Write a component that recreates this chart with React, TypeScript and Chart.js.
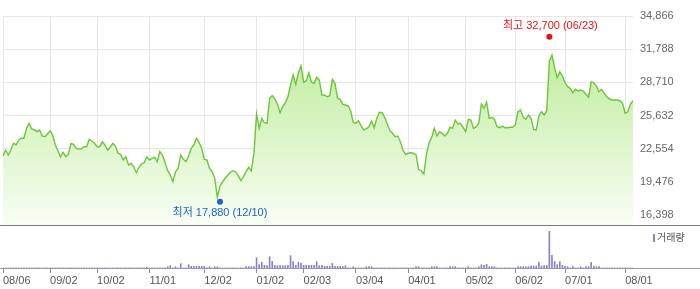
import React, { useEffect, useRef } from 'react';
import { Chart, registerables } from 'chart.js';

Chart.register(...registerables);

// Trading days (2024-08-06 .. 2025-08-06)
const dates = [
  '08/06','08/07','08/08','08/09','08/12','08/13','08/14','08/16','08/19','08/20','08/21','08/22','08/23','08/26','08/27','08/28','08/29','08/30',
  '09/02','09/03','09/04','09/05','09/06','09/09','09/10','09/11','09/12','09/13','09/19','09/20','09/23','09/24','09/25','09/26','09/27','09/30',
  '10/02','10/04','10/07','10/08','10/10','10/11','10/14','10/15','10/16','10/17','10/18','10/21','10/22','10/23','10/24','10/25','10/28','10/29','10/30','10/31',
  '11/01','11/04','11/05','11/06','11/07','11/08','11/11','11/12','11/13','11/14','11/15','11/18','11/19','11/20','11/21','11/22','11/25','11/26','11/27','11/28','11/29',
  '12/02','12/03','12/04','12/05','12/06','12/09','12/10','12/11','12/12','12/13','12/16','12/17','12/18','12/19','12/20','12/23','12/24','12/26','12/27','12/30',
  '01/02','01/03','01/06','01/07','01/08','01/09','01/10','01/13','01/14','01/15','01/16','01/17','01/20','01/21','01/22','01/23','01/24','01/31',
  '02/03','02/04','02/05','02/06','02/07','02/10','02/11','02/12','02/13','02/14','02/17','02/18','02/19','02/20','02/21','02/24','02/25','02/26','02/27','02/28',
  '03/04','03/05','03/06','03/07','03/10','03/11','03/12','03/13','03/14','03/17','03/18','03/19','03/20','03/21','03/24','03/25','03/26','03/27','03/28','03/31',
  '04/01','04/02','04/03','04/04','04/07','04/08','04/09','04/10','04/11','04/14','04/15','04/16','04/17','04/18','04/21','04/22','04/23','04/24','04/25','04/28','04/29','04/30',
  '05/02','05/07','05/08','05/09','05/12','05/13','05/14','05/15','05/16','05/19','05/20','05/21','05/22','05/23','05/26','05/27','05/28','05/29','05/30',
  '06/02','06/04','06/05','06/09','06/10','06/11','06/12','06/13','06/16','06/17','06/18','06/19','06/20','06/23','06/24','06/25','06/26','06/27','06/30',
  '07/01','07/02','07/03','07/04','07/07','07/08','07/09','07/10','07/11','07/14','07/15','07/16','07/17','07/18','07/21','07/22','07/23','07/24','07/25','07/28','07/29','07/30','07/31',
  '08/01','08/04','08/05','08/06',
];

const closes = [
  21890,22440,21980,22440,23060,22910,23370,23530,23530,24450,
  24920,24390,24300,24140,24300,23740,23680,23930,24230,23830,
  22910,22380,21820,22230,21820,22040,23060,22970,22600,22540,
  22560,22750,22750,23430,23280,23060,22750,22750,23210,22910,
  22440,22690,23060,22810,22140,22040,21520,21820,21050,21210,
  20890,20340,20840,21150,21270,21820,21520,21670,21770,21360,
  22290,21980,21270,20520,20130,19500,20430,20750,21980,21580,
  21360,21890,22600,22910,23530,23160,22600,21580,21520,20750,
  20430,19820,18060,19100,19500,19820,20130,20380,20520,20430,
  20060,19600,19970,20430,20840,20500,22160,25780,24450,25380,
  24970,24920,27240,27480,27170,26710,25900,26460,26830,27380,
  28470,29400,28530,29610,30260,28720,28870,29610,28720,28630,
  29180,28930,27540,27540,27380,27480,29000,28630,27240,27140,
  26680,26610,26550,26060,24970,24920,25160,24670,24300,24420,
  24600,25130,24510,25380,25940,25900,25470,24850,24230,23990,
  23680,23740,23210,22440,22010,22140,22190,22140,22010,20650,
  20520,20220,22070,23120,23620,24450,23740,24140,23990,23740,
  23990,24550,24450,25220,24850,24920,24550,24140,25290,25220,
  24450,24600,24920,26710,26310,26870,25380,25470,25290,24600,
  24510,24670,24510,24510,24550,24550,24790,25990,26150,25470,
  25290,25690,25380,24360,24300,25600,25990,25690,26090,30690,
  31250,30110,29150,29700,29300,28680,28310,28160,27750,28070,
  27910,28000,27910,27610,27330,28780,28680,28380,27850,28070,
  27700,27380,27170,27080,27080,27080,27010,26770,25850,25990,
  26710,27010,
];

// volume in thousand shares (approx.)
const volumes = [
  8,8,8,8,8,8,8,8,8,8,
  8,8,8,8,8,8,8,8,8,8,
  8,8,8,8,8,8,8,8,8,8,
  8,8,8,8,8,8,8,8,8,8,
  8,8,8,8,8,8,8,8,8,8,
  8,8,8,8,8,100,8,8,8,8,
  8,8,8,130,230,8,130,8,430,8,
  8,330,170,170,170,170,170,170,8,130,
  8,130,130,8,8,8,8,8,8,8,
  8,8,8,130,130,130,130,1030,330,570,
  270,230,1130,670,270,230,230,230,230,270,
  1230,630,270,570,470,270,270,270,270,270,
  630,230,270,170,170,170,470,170,170,170,
  130,230,8,8,130,8,8,8,8,130,
  130,130,8,8,8,8,8,8,8,8,
  8,8,8,8,8,8,8,8,130,130,
  8,8,8,8,130,130,130,8,8,8,
  8,130,130,130,8,8,8,8,130,8,
  8,8,130,330,270,370,130,130,130,8,
  8,8,8,8,8,8,8,130,130,130,
  130,130,200,200,200,570,200,230,270,3670,
  1270,670,330,630,270,170,130,8,130,8,
  8,130,8,130,130,570,170,130,130,8,
  8,8,8,8,8,8,8,8,8,8,
  8,8,
];

const monthTickLabels = ['08/06','09/02','10/02','11/01','12/02','01/02','02/03','03/04','04/01','05/02','06/02','07/01','08/01'];
const priceTicks = [16398, 19476, 22554, 25632, 28710, 31788, 34866];
const priceMin = 15490;
const priceMax = 34866;
const volumeMax = 4200;

const highValue = 32700;
const highDate = '06/23';
const lowValue = 17880;
const lowDate = '12/10';

const GRID = '#e6e6e6';
const PURPLE = '#8f7fc6';
const LABEL_FONT = '"Liberation Sans", Arial, sans-serif';
const ANNOT_FONT = '11px "Liberation Sans", "Noto Sans CJK KR", sans-serif';

export default function App() {
  const refA = useRef<HTMLCanvasElement>(null);
  const refB = useRef<HTMLCanvasElement>(null);

  useEffect(() => {
    const tickIdx = monthTickLabels.map((l) => dates.indexOf(l));
    const setMonthTicks = (s: any) => {
      s.ticks = tickIdx.map((v) => ({ value: v }));
    };

    const annotPlugin = {
      id: 'annot',
      afterDatasetsDraw(chart: any) {
        const { ctx } = chart;
        const xs = chart.scales.x;
        const ys = chart.scales.y;
        ctx.save();
        ctx.font = ANNOT_FONT;
        ctx.textAlign = 'center';
        ctx.textBaseline = 'middle';
        // high
        const hx = xs.getPixelForValue(dates.indexOf(highDate));
        const hy = ys.getPixelForValue(highValue) - 2.5;
        ctx.fillStyle = '#ee1111';
        ctx.beginPath();
        ctx.arc(hx, hy, 3, 0, Math.PI * 2);
        ctx.fill();
        ctx.fillText(`최고 ${highValue.toLocaleString('en-US')} (${highDate})`, hx + 1, hy - 11);
        // low
        const lx = xs.getPixelForValue(dates.indexOf(lowDate));
        const ly = ys.getPixelForValue(lowValue) + 2.5;
        ctx.fillStyle = '#1c62d0';
        ctx.beginPath();
        ctx.arc(lx, ly, 3, 0, Math.PI * 2);
        ctx.fill();
        ctx.fillText(`최저 ${lowValue.toLocaleString('en-US')} (${lowDate})`, lx, ly + 11);
        ctx.restore();
      },
      afterDraw(chart: any) {
        const { ctx, chartArea, width } = chart;
        ctx.save();
        ctx.strokeStyle = '#7a7a7a';
        ctx.lineWidth = 1;
        ctx.beginPath();
        ctx.moveTo(0, chartArea.bottom + 0.5);
        ctx.lineTo(width, chartArea.bottom + 0.5);
        ctx.stroke();
        ctx.restore();
      },
    };

    const baselinePlugin = {
      id: 'baseline',
      afterDatasetsDraw(chart: any) {
        const { ctx, chartArea, width } = chart;
        ctx.save();
        ctx.strokeStyle = '#9a9a9a';
        ctx.lineWidth = 1;
        ctx.beginPath();
        ctx.moveTo(0, chartArea.bottom + 0.5);
        ctx.lineTo(width, chartArea.bottom + 0.5);
        ctx.stroke();
        ctx.restore();
      },
    };

    const chartA = new Chart(refA.current as HTMLCanvasElement, {
      type: 'line',
      data: {
        labels: dates,
        datasets: [
          {
            data: closes,
            borderColor: '#6cc63a',
            borderWidth: 1.4,
            pointRadius: 0,
            tension: 0,
            fill: 'start',
            backgroundColor: (c: any) => {
              const { chart } = c;
              const area = chart.chartArea;
              if (!area) return 'rgba(190,235,150,0.5)';
              const g = chart.ctx.createLinearGradient(0, area.top, 0, area.bottom);
              g.addColorStop(0, '#b4e88c');
              g.addColorStop(1, '#f8fef4');
              return g;
            },
          },
        ],
      },
      options: {
        animation: false,
        responsive: false,
        devicePixelRatio: 1,
        layout: { padding: { left: 3, top: 16, right: 0, bottom: 0 } },
        plugins: { legend: { display: false }, tooltip: { enabled: false } },
        scales: {
          x: {
            type: 'category',
            offset: false,
            grid: { color: GRID, lineWidth: 1, drawTicks: false },
            border: { display: false },
            ticks: { display: false, autoSkip: false },
            afterBuildTicks: setMonthTicks,
            afterFit: (s: any) => {
              s.height = 1;
              s.paddingLeft = 0;
              s.paddingRight = 0;
            },
          },
          y: {
            position: 'right',
            min: priceMin,
            max: priceMax,
            afterBuildTicks: (s: any) => {
              s.ticks = priceTicks.map((v) => ({ value: v }));
            },
            grid: { color: GRID, lineWidth: 1, drawTicks: false },
            border: { display: false },
            ticks: {
              color: '#666',
              font: { family: LABEL_FONT, size: 11 },
              padding: 7,
              callback: (v: any) => Number(v).toLocaleString('en-US'),
            },
            afterFit: (s: any) => {
              s.width = 67;
              s.paddingTop = 0;
              s.paddingBottom = 0;
            },
          },
        },
      },
      plugins: [annotPlugin],
    } as any);

    const chartB = new Chart(refB.current as HTMLCanvasElement, {
      type: 'bar',
      data: {
        labels: dates,
        datasets: [
          {
            data: volumes,
            backgroundColor: PURPLE,
            barThickness: 1,
          },
        ],
      },
      options: {
        animation: false,
        responsive: false,
        devicePixelRatio: 1,
        layout: { padding: { left: 3, top: 0, right: 67, bottom: 0 } },
        plugins: { legend: { display: false }, tooltip: { enabled: false } },
        scales: {
          x: {
            type: 'category',
            offset: false,
            grid: {
              display: true,
              offset: false,
              drawOnChartArea: false,
              drawTicks: true,
              tickLength: 5,
              tickColor: PURPLE,
              lineWidth: 1,
            },
            border: { display: false },
            ticks: {
              color: '#555',
              font: { family: LABEL_FONT, size: 11 },
              align: 'start',
              padding: 1,
              maxRotation: 0,
              autoSkip: false,
            },
            afterBuildTicks: setMonthTicks,
            afterFit: (s: any) => {
              s.height = 21;
              s.paddingLeft = 0;
              s.paddingRight = 0;
            },
          },
          y: {
            display: false,
            min: 0,
            max: volumeMax,
          },
        },
      },
      plugins: [baselinePlugin],
    } as any);

    return () => {
      chartA.destroy();
      chartB.destroy();
    };
  }, []);

  return (
    <div style={{ position: 'fixed', left: 0, top: 0, width: 700, height: 289, background: '#fff', overflow: 'hidden' }}>
      <canvas ref={refA} width={700} height={226} style={{ position: 'absolute', left: 0, top: 0 }} />
      <canvas ref={refB} width={700} height={63} style={{ position: 'absolute', left: 0, top: 226 }} />
      <div style={{ position: 'absolute', left: 653, top: 234, width: 2, height: 8, background: PURPLE }} />
      <div
        style={{
          position: 'absolute',
          left: 657,
          top: 230,
          fontSize: 10,
          lineHeight: '14px',
          fontFamily: '"Noto Sans CJK KR", sans-serif',
          color: '#555',
          whiteSpace: 'nowrap',
        }}
      >
        거래량
      </div>
    </div>
  );
}
